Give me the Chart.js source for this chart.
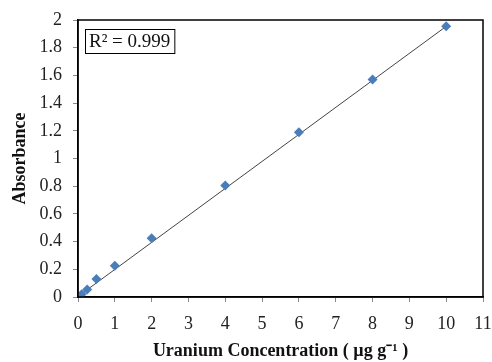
<!DOCTYPE html>
<html>
<head>
<meta charset="utf-8">
<script src="https://cdn.jsdelivr.net/npm/chart.js@4"></script>
<style>
  html, body { margin: 0; padding: 0; background: #fff; }
</style>
</head>
<body>
<canvas id="grafico" width="492" height="362"></canvas>
<script>
// concentration (ug/g) and absorbance
const concentracao = [0, 0.1, 0.25, 0.5, 1, 2, 4, 6, 8, 10];
const absorbancia = [0, 0.02, 0.055, 0.13, 0.225, 0.425, 0.805, 1.19, 1.57, 1.955];

// linear trendline end points
const tendenciaX = [0, 10];
const tendenciaY = [0.004, 1.954];

const xTicks = [0, 1, 2, 3, 4, 5, 6, 7, 8, 9, 10, 11];
const yTicks = [0, 0.2, 0.4, 0.6, 0.8, 1, 1.2, 1.4, 1.6, 1.8, 2];

const rotuloR2 = 'R\u00B2 = 0.999';

const serif = '"Liberation Serif", "Times New Roman", serif';

// box round the plot area plus the R² label
const molduraPlugin = {
    id: 'moldura',
    afterDraw(chart) {
        const a = chart.chartArea;
        const c = chart.ctx;
        c.save();
        c.strokeStyle = '#000';
        c.lineWidth = 1.5;
        c.strokeRect(a.left, a.top, a.right - a.left, a.bottom - a.top);

        c.font = '19px ' + serif;
        c.textBaseline = 'middle';
        const w = c.measureText(rotuloR2).width;
        const bx = a.left + 7, by = a.top + 9;
        c.fillStyle = '#fff';
        c.fillRect(bx, by, w + 8, 24);
        c.strokeStyle = '#000';
        c.lineWidth = 1;
        c.strokeRect(bx + 0.5, by + 0.5, w + 8, 24);
        c.fillStyle = '#111';
        c.fillText(rotuloR2, bx + 4, by + 13);
        c.restore();
    }
};

const ctx = document.getElementById('grafico').getContext('2d');
const grafico = new Chart(ctx, {
    type: 'scatter',
    data: {
        datasets: [
            {
                label: 'Absorbance',
                data: concentracao.map((x, i) => ({ x: x, y: absorbancia[i] })),
                pointStyle: 'rectRot',
                pointRadius: 5,
                backgroundColor: '#4A7EBB',
                borderColor: '#4A7EBB',
                borderWidth: 0,
                order: 1
            },
            {
                label: 'Linear',
                type: 'line',
                data: tendenciaX.map((x, i) => ({ x: x, y: tendenciaY[i] })),
                borderColor: '#444',
                borderWidth: 1,
                pointRadius: 0,
                fill: false,
                order: 2
            }
        ]
    },
    options: {
        responsive: false,
        animation: false,
        layout: {
            padding: { top: 20, right: 9, left: 0, bottom: 0 }
        },
        plugins: {
            legend: { display: false },
            tooltip: { enabled: false }
        },
        scales: {
            x: {
                type: 'linear',
                min: 0,
                max: 11,
                afterBuildTicks: (s) => { s.ticks = xTicks.map(v => ({ value: v })); },
                afterFit: (s) => { s.height = 65; s.paddingRight = 0; s.paddingLeft = 0; },
                grid: {
                    drawOnChartArea: false,
                    drawTicks: true,
                    tickLength: 5,
                    color: '#888'
                },
                border: { color: '#000', width: 1.5 },
                ticks: {
                    padding: 11,
                    color: '#222',
                    maxRotation: 0,
                    font: { family: serif, size: 18 }
                },
                title: {
                    display: true,
                    text: 'Uranium Concentration ( \u00B5g g\u207B\u00B9 )',
                    color: '#111',
                    padding: { top: 0, bottom: 0 },
                    font: { family: serif, size: 18, weight: 'bold' }
                }
            },
            y: {
                type: 'linear',
                min: 0,
                max: 2,
                afterBuildTicks: (s) => { s.ticks = yTicks.map(v => ({ value: v })); },
                afterFit: (s) => { s.width = 78; s.paddingTop = 0; s.paddingBottom = 0; },
                grid: {
                    drawOnChartArea: false,
                    drawTicks: true,
                    tickLength: 5,
                    color: '#888'
                },
                border: { color: '#000', width: 1.5 },
                ticks: {
                    padding: 11,
                    color: '#222',
                    font: { family: serif, size: 18 },
                    callback: (v) => String(Math.round(v * 10) / 10)
                },
                title: {
                    display: true,
                    text: 'Absorbance',
                    color: '#111',
                    padding: { top: 10, bottom: 0 },
                    font: { family: serif, size: 18, weight: 'bold' }
                }
            }
        }
    },
    plugins: [molduraPlugin]
});
</script>
</body>
</html>
